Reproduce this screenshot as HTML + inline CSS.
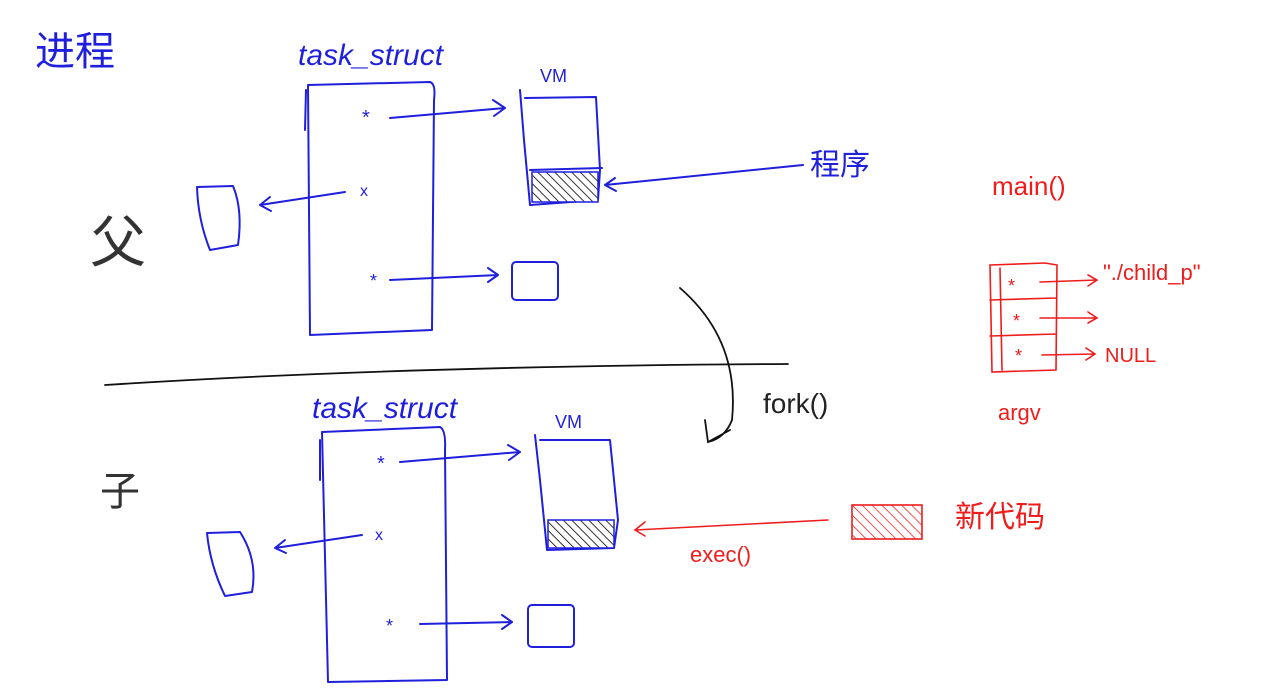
<!DOCTYPE html>
<html><head><meta charset="utf-8"><style>
html,body{margin:0;padding:0;background:#fff;width:1280px;height:700px;overflow:hidden}
svg{display:block}
text{font-family:"Liberation Sans","Noto Sans CJK SC",sans-serif}
.b{stroke:#1f1fdc;fill:none;stroke-width:2;stroke-linecap:round;stroke-linejoin:round}
.r{stroke:#f01c1c;fill:none;stroke-width:1.6;stroke-linecap:round}
.k{stroke:#111;fill:none;stroke-width:1.8;stroke-linecap:round}
</style></head><body>
<svg width="1280" height="700" viewBox="0 0 1280 700">
<defs>
<pattern id="hatch" width="6" height="6" patternUnits="userSpaceOnUse" patternTransform="rotate(-45)"><rect width="6" height="6" fill="#fff"/><line x1="0" y1="0" x2="0" y2="6" stroke="#333" stroke-width="2"/></pattern>
<pattern id="hatchr" width="7" height="7" patternUnits="userSpaceOnUse" patternTransform="rotate(-45)"><line x1="0" y1="0" x2="0" y2="7" stroke="#f01c1c" stroke-width="1.5"/></pattern>
</defs>
<text x="35" y="65" font-size="40" fill="#1f1fdc">进程</text>
<!-- parent -->
<text x="298" y="65" font-size="30" fill="#1f1fdc" font-style="italic">task_struct</text>
<path class="b" d="M308 85 L430 82 Q436 84 434 100 L432 330 L310 335 Z M306 90 L305 130"/>
<text x="362" y="124" font-size="20" fill="#1f1fdc">*</text>
<path class="b" d="M390 118 L505 108 M493 100 L505 108 L494 116"/>
<text x="360" y="196" font-size="16" fill="#1f1fdc">x</text>
<path class="b" d="M345 192 L260 205 M270 197 L260 205 L271 211"/>
<path class="b" d="M197 187 L233 186 Q243 210 238 245 L210 250 Q198 220 197 187 Z"/>
<text x="370" y="287" font-size="18" fill="#1f1fdc">*</text>
<path class="b" d="M390 280 L498 275 M488 268 L498 275 L488 282"/>
<rect class="b" x="512" y="262" width="46" height="38" rx="4"/>
<text x="540" y="82" font-size="18" fill="#1f1fdc">VM</text>
<path class="b" d="M520 90 L524 140 L530 205 L598 200 L600 170 L596 97 L525 98"/>
<rect x="532" y="172" width="66" height="30" fill="url(#hatch)" stroke="#1f1fdc" stroke-width="1.5"/>
<path class="b" d="M530 170 L602 168"/>
<path class="b" d="M803 165 L605 185 M615 178 L605 185 L616 191"/>
<text x="810" y="175" font-size="30" fill="#1f1fdc">程序</text>
<text x="90" y="262" font-size="56" fill="#333">父</text>
<!-- divider and fork -->
<path class="k" d="M105 385 Q400 366 788 364"/>
<path class="k" d="M680 288 Q740 340 732 420 Q725 438 708 442 M705 420 L708 442 L730 430"/>
<text x="763" y="413" font-size="28" fill="#222">fork()</text>
<!-- child -->
<text x="312" y="418" font-size="30" fill="#1f1fdc" font-style="italic">task_struct</text>
<path class="b" d="M322 432 L440 427 Q446 430 445 450 L447 680 L328 682 Z M320 440 L320 480"/>
<text x="377" y="470" font-size="20" fill="#1f1fdc">*</text>
<path class="b" d="M400 462 L520 452 M508 445 L520 452 L509 460"/>
<text x="375" y="540" font-size="16" fill="#1f1fdc">x</text>
<path class="b" d="M362 535 L275 548 M285 540 L275 548 L286 553"/>
<path class="b" d="M207 533 L240 532 Q258 560 252 592 L225 596 Q210 565 207 533 Z"/>
<text x="386" y="632" font-size="18" fill="#1f1fdc">*</text>
<path class="b" d="M420 624 L512 622 M502 615 L512 622 L502 629"/>
<rect class="b" x="528" y="605" width="46" height="42" rx="4"/>
<text x="555" y="428" font-size="18" fill="#1f1fdc">VM</text>
<path class="b" d="M535 435 L540 480 L547 550 L614 548 L618 520 L610 440 L540 440"/>
<rect x="548" y="520" width="66" height="28" fill="url(#hatch)" stroke="#1f1fdc" stroke-width="1.5"/>
<text x="100" y="505" font-size="40" fill="#333">子</text>
<!-- red -->
<path class="r" d="M828 520 L635 530 M645 522 L635 530 L645 536"/>
<text x="690" y="562" font-size="22" fill="#f01c1c">exec()</text>
<rect x="852" y="505" width="70" height="34" fill="url(#hatchr)" stroke="#f01c1c" stroke-width="1.6"/>
<text x="955" y="527" font-size="30" fill="#f01c1c">新代码</text>
<text x="992" y="195" font-size="26" fill="#f01c1c">main()</text>
<path class="r" d="M990 265 L1045 263 L1057 265 L1056 370 L992 372 Z M990 300 L1056 298 M990 336 L1056 334 M1000 268 L1002 370"/>
<text x="1008" y="292" font-size="18" fill="#f01c1c">*</text>
<text x="1013" y="327" font-size="18" fill="#f01c1c">*</text>
<text x="1015" y="362" font-size="18" fill="#f01c1c">*</text>
<path class="r" d="M1040 282 L1097 280 M1088 275 L1097 280 L1088 286 M1040 318 L1097 318 M1088 312 L1097 318 L1088 323 M1042 355 L1095 354 M1086 348 L1095 354 L1086 360"/>
<text x="1103" y="280" font-size="22" fill="#f01c1c">"./child_p"</text>
<text x="1105" y="362" font-size="20" fill="#f01c1c">NULL</text>
<text x="998" y="420" font-size="22" fill="#f01c1c">argv</text>
</svg>
</body></html>
